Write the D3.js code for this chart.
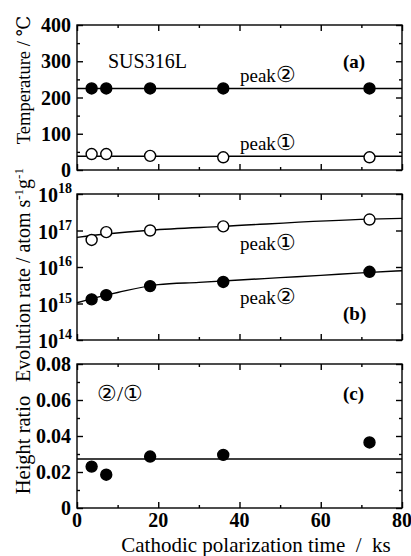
<!DOCTYPE html>
<html><head><meta charset="utf-8">
<script src="https://cdn.jsdelivr.net/npm/d3@7"></script>
<style>
html,body{margin:0;padding:0;background:#fff;}
svg{display:block;}
</style>
</head><body>
<script>
// ---- data ----
const timeKs = [3.6, 7.2, 18, 36, 72];
// panel (a) peak temperatures (°C)
const tempPeak1 = [44, 44, 39, 35, 35];
const tempPeak2 = [225, 225, 225, 225, 225];
const tempLine1 = 38;
const tempLine2 = 225;
// panel (b) evolution rate (atom s-1 g-1)
const ratePeak1 = [5.5e16, 9e16, 1.0e17, 1.3e17, 2.0e17];
const ratePeak2 = [1.3e15, 1.7e15, 3.0e15, 3.9e15, 7.4e15];
const fitX1 = [0, 7.2, 18, 36, 72, 80];
const fitY1 = [6.5e16, 8.0e16, 1.02e17, 1.3e17, 2.05e17, 2.15e17];
const fitX2 = [0, 7.2, 10, 20, 30, 40, 50, 60, 70, 80];
const fitY2 = [1.05e15, 1.7e15, 2.0e15, 3.3e15, 3.8e15, 4.4e15, 5.1e15, 5.9e15, 6.9e15, 7.9e15];
// panel (c) height ratio
const heightRatio = [0.023, 0.0185, 0.0286, 0.0295, 0.0364];
const ratioLine = 0.0272;
// ticks
const xTicks = [0, 20, 40, 60, 80];
const tempTicks = [0, 100, 200, 300, 400];
const rateTicks = [1e14, 1e15, 1e16, 1e17, 1e18];
const ratioTicks = [0, 0.02, 0.04, 0.06, 0.08];

const W = 411, H = 556;
const L = 77, R = 402;
const svg = d3.select("body").append("svg").attr("width", W).attr("height", H)
  .attr("font-family", "'Liberation Serif','DejaVu Serif',serif");

const x = d3.scaleLinear().domain([0, 80]).range([L, R]);
const ya = d3.scaleLinear().domain([0, 400]).range([170, 25]);
const yb = d3.scaleLog().domain([1e14, 1e18]).range([340, 194]);
const yc = d3.scaleLinear().domain([0, 0.08]).range([508, 364]);

const SW = 1.4;
function frame(y, majorY, minorY) {
  const [y0, y1] = [y.range()[0], y.range()[1]];
  const g = svg.append("g");
  const xMaj = xTicks, xMin = [10, 30, 50, 70];
  g.append("g").attr("transform", `translate(0,${y0})`).call(d3.axisBottom(x).tickValues(xMaj).tickSize(-6).tickFormat(""));
  g.append("g").attr("transform", `translate(0,${y0})`).call(d3.axisBottom(x).tickValues(xMin).tickSize(-3).tickFormat(""));
  g.append("g").attr("transform", `translate(0,${y1})`).call(d3.axisTop(x).tickValues(xMaj).tickSize(-6).tickFormat(""));
  g.append("g").attr("transform", `translate(0,${y1})`).call(d3.axisTop(x).tickValues(xMin).tickSize(-3).tickFormat(""));
  g.append("g").attr("transform", `translate(${L},0)`).call(d3.axisLeft(y).tickValues(majorY).tickSize(-6).tickFormat(""));
  g.append("g").attr("transform", `translate(${R},0)`).call(d3.axisRight(y).tickValues(majorY).tickSize(-6).tickFormat(""));
  if (minorY.length) {
    g.append("g").attr("transform", `translate(${L},0)`).call(d3.axisLeft(y).tickValues(minorY).tickSize(-3).tickFormat(""));
    g.append("g").attr("transform", `translate(${R},0)`).call(d3.axisRight(y).tickValues(minorY).tickSize(-3).tickFormat(""));
  }
  g.selectAll(".domain").remove();
  g.selectAll("line").attr("stroke", "#000").attr("stroke-width", SW);
  g.append("rect").attr("x", L).attr("y", y1).attr("width", R - L).attr("height", y0 - y1)
    .attr("fill", "none").attr("stroke", "#000").attr("stroke-width", SW);
}

frame(ya, tempTicks, [50, 150, 250, 350]);
frame(yb, rateTicks, []);
frame(yc, ratioTicks, [0.01, 0.03, 0.05, 0.07]);

const FS = 20;
function yLabels(y, vals, fmt) {
  svg.append("g").selectAll("text").data(vals).join("text")
    .attr("x", L - 6).attr("y", d => y(d) + 7)
    .attr("text-anchor", "end").attr("font-size", FS).attr("font-weight", "bold").text(fmt);
}
yLabels(ya, tempTicks, d => d3.format("d")(d));
yLabels(yc, ratioTicks, d => d === 0 ? "0" : d3.format(".2f")(d));
const lg = svg.append("g").selectAll("text").data(rateTicks).join("text")
  .attr("x", L - 5).attr("y", d => yb(d) + 8).attr("text-anchor", "end").attr("font-size", FS).attr("font-weight", "bold");
lg.append("tspan").text("10");
lg.append("tspan").attr("dy", -9).attr("font-size", 14).text(d => Math.round(Math.log10(d)));

svg.append("g").selectAll("text").data(xTicks).join("text")
  .attr("x", d => x(d)).attr("y", 527).attr("text-anchor", "middle").attr("font-size", FS).attr("font-weight", "bold")
  .text(d => d);

const lineStyle = s => s.attr("fill", "none").attr("stroke", "#000").attr("stroke-width", SW);
svg.append("line").attr("x1", x(0)).attr("x2", x(80)).attr("y1", ya(tempLine2)).attr("y2", ya(tempLine2)).call(lineStyle);
svg.append("line").attr("x1", x(0)).attr("x2", x(80)).attr("y1", ya(tempLine1)).attr("y2", ya(tempLine1)).call(lineStyle);
svg.append("line").attr("x1", x(0)).attr("x2", x(80)).attr("y1", yc(ratioLine)).attr("y2", yc(ratioLine)).call(lineStyle);
const lb = d3.line().x(d => x(d[0])).y(d => yb(d[1])).curve(d3.curveMonotoneX);
svg.append("path").attr("d", lb(d3.zip(fitX1, fitY1))).call(lineStyle);
svg.append("path").attr("d", lb(d3.zip(fitX2, fitY2))).call(lineStyle);

const rM = 5.5;
function pts(y, vals, filled) {
  svg.append("g").selectAll("circle").data(d3.zip(timeKs, vals)).join("circle")
    .attr("cx", d => x(d[0])).attr("cy", d => y(d[1])).attr("r", rM)
    .attr("fill", filled ? "#000" : "#fff").attr("stroke", "#000").attr("stroke-width", 1.4);
}
pts(ya, tempPeak2, true);
pts(ya, tempPeak1, false);
pts(yb, ratePeak1, false);
pts(yb, ratePeak2, true);
pts(yc, heightRatio, true);

function txt(tx, ty, s, fs, anchor) {
  return svg.append("text").attr("x", tx).attr("y", ty).attr("font-size", fs || 18)
    .attr("text-anchor", anchor || "start").text(s);
}
function peak(tx, ty, c) {
  const t = svg.append("text").attr("x", tx).attr("y", ty).attr("font-size", 19);
  t.append("tspan").text("peak");
  t.append("tspan").attr("font-size", 22).text(c);
}
txt(108, 68, "SUS316L", 20);
txt(343, 68, "(a)", 19).attr("font-weight", "bold");
peak(240, 82, "\u2461");
peak(240, 150, "\u2460");
peak(240, 250, "\u2460");
peak(240, 304, "\u2461");
txt(343, 320, "(b)", 19).attr("font-weight", "bold");
txt(97, 401, "\u2461/\u2460", 22);
txt(343, 400, "(c)", 19).attr("font-weight", "bold");
txt(256, 552, "Cathodic polarization time\u00a0 /\u00a0 ks", 21, "middle");

function ytitle(cx, cy, fs, build) {
  const t = svg.append("text").attr("transform", `translate(${cx},${cy}) rotate(-90)`)
    .attr("text-anchor", "middle").attr("font-size", fs);
  build(t);
}
ytitle(30, 80, 18.5, t => t.text("Temperature / \u2103"));
ytitle(30, 275, 20, t => {
  t.append("tspan").text("Evolution rate / atom s");
  t.append("tspan").attr("dy", -7).attr("font-size", 13).text("-1");
  t.append("tspan").attr("dy", 7).text("g");
  t.append("tspan").attr("dy", -7).attr("font-size", 13).text("-1");
});
ytitle(30, 445, 20.5, t => t.text("Height ratio"));
</script>
</body></html>
